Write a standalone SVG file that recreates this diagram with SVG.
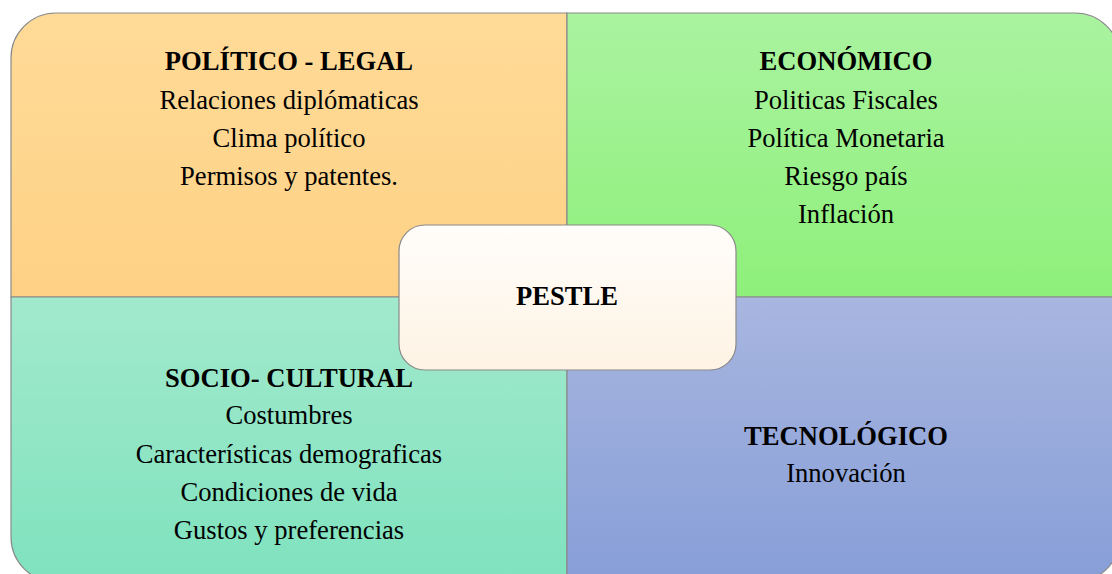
<svg xmlns="http://www.w3.org/2000/svg" width="1112" height="574" viewBox="0 0 1112 574">
<defs>
<linearGradient id="gTL" x1="0" y1="0" x2="0" y2="1"><stop offset="0" stop-color="#FFDB98"/><stop offset="1" stop-color="#FED185"/></linearGradient>
<linearGradient id="gTR" x1="0" y1="0" x2="0" y2="1"><stop offset="0" stop-color="#AAF3A0"/><stop offset="1" stop-color="#8EF07A"/></linearGradient>
<linearGradient id="gBL" x1="0" y1="0" x2="0" y2="1"><stop offset="0" stop-color="#A2E9CD"/><stop offset="1" stop-color="#7FE2BE"/></linearGradient>
<linearGradient id="gBR" x1="0" y1="0" x2="0" y2="1"><stop offset="0" stop-color="#A8B6E0"/><stop offset="1" stop-color="#879ED7"/></linearGradient>
<linearGradient id="gC" x1="0" y1="0" x2="0" y2="1"><stop offset="0" stop-color="#FFFDFA"/><stop offset="1" stop-color="#FEF3E4"/></linearGradient>
</defs>
<style>
.q{stroke:#8a8a8a;stroke-width:1.2}
text{font-family:"Liberation Serif","Times New Roman",serif;font-size:26.6px;fill:#000;text-anchor:middle}
.h{font-weight:bold}
</style>
<g id="politico">
<path class="q" fill="url(#gTL)" d="M567,13 L56,13 A45,45 0 0 0 11,58 L11,297 L567,297 Z"/>
<text class="h" x="289" y="70">POLÍTICO - LEGAL</text>
<text x="289" y="109">Relaciones diplómaticas</text>
<text x="289" y="147">Clima político</text>
<text x="289" y="185">Permisos y patentes.</text>
</g>
<g id="economico">
<path class="q" fill="url(#gTR)" d="M567,13 L1075,13 A45,45 0 0 1 1120,58 L1120,297 L567,297 Z"/>
<text class="h" x="846" y="70">ECONÓMICO</text>
<text x="846" y="109">Politicas Fiscales</text>
<text x="846" y="147">Política Monetaria</text>
<text x="846" y="185">Riesgo país</text>
<text x="846" y="223">Inflación</text>
</g>
<g id="socio">
<path class="q" fill="url(#gBL)" d="M567,297 L11,297 L11,537 A45,45 0 0 0 56,582 L567,582 Z"/>
<text class="h" x="289" y="387">SOCIO- CULTURAL</text>
<text x="289" y="424">Costumbres</text>
<text x="289" y="463">Características demograficas</text>
<text x="289" y="501">Condiciones de vida</text>
<text x="289" y="539">Gustos y preferencias</text>
</g>
<g id="tecnologico">
<path class="q" fill="url(#gBR)" d="M567,297 L1120,297 L1120,537 A45,45 0 0 1 1075,582 L567,582 Z"/>
<text class="h" x="846" y="445">TECNOLÓGICO</text>
<text x="846" y="482">Innovación</text>
</g>
<g id="pestle">
<rect class="q" fill="url(#gC)" x="399" y="225" width="337" height="145" rx="26" ry="26"/>
<text class="h" x="567" y="305">PESTLE</text>
</g>
<g id="connectors"></g>
</svg>
